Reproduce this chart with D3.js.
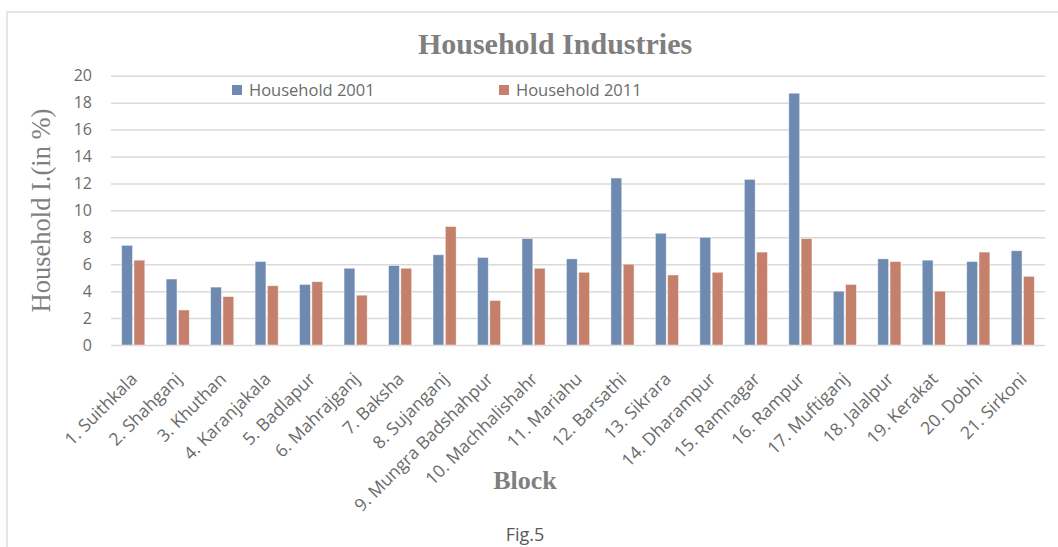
<!DOCTYPE html>
<html>
<head>
<meta charset="utf-8">
<script src="https://cdn.jsdelivr.net/npm/d3@7"></script>
<style>
  body { margin: 0; background: #fff; }
  .grid line { stroke: #d9d9d9; stroke-width: 1.5; }
  .grid path { display: none; }
  .yaxis path, .yaxis line { display: none; }
  .yaxis text { font-family: "Open Sans", sans-serif; font-size: 16px; fill: #6b6b6b; }
  .xaxis path, .xaxis line { display: none; }
  .xaxis text { font-family: "Open Sans", sans-serif; font-size: 17.5px; fill: #6b6b6b; }
</style>
</head>
<body>
<script>
(function() {
    var w = 1058,
        h = 547;

    // chart values
    var blocks = ['1. Suithkala', '2. Shahganj', '3. Khuthan', '4. Karanjakala', '5. Badlapur',
        '6. Mahrajganj', '7. Baksha', '8. Sujanganj', '9. Mungra Badshahpur', '10. Machhalishahr',
        '11. Mariahu', '12. Barsathi', '13. Sikrara', '14. Dharampur', '15. Ramnagar',
        '16. Rampur', '17. Muftiganj', '18. Jalalpur', '19. Kerakat', '20. Dobhi', '21. Sirkoni'];
    var household2001 = [7.4, 4.9, 4.3, 6.2, 4.5, 5.7, 5.9, 6.7, 6.5, 7.9, 6.4, 12.4, 8.3, 8.0, 12.3, 18.7, 4.0, 6.4, 6.3, 6.2, 7.0];
    var household2011 = [6.3, 2.6, 3.6, 4.4, 4.7, 3.7, 5.7, 8.8, 3.3, 5.7, 5.4, 6.0, 5.2, 5.4, 6.9, 7.9, 4.5, 6.2, 4.0, 6.9, 5.1];
    var seriesNames = ['Household 2001', 'Household 2011'];
    var seriesColors = ['#6f8ab0', '#c4806a'];
    var yTicks = [0, 2, 4, 6, 8, 10, 12, 14, 16, 18, 20];

    var plot = {left: 111, right: 1045, top: 75.7, bottom: 345};

    var svg = d3.select('body')
        .append('svg')
        .attr('width', w)
        .attr('height', h);

    // outer frame of the chart
    svg.append('rect')
        .attr('x', 7)
        .attr('y', 12)
        .attr('width', w + 20)
        .attr('height', h + 20)
        .attr('fill', 'none')
        .attr('stroke', '#e6e6e6')
        .attr('stroke-width', 2);

    var x0 = d3.scaleBand()
        .domain(blocks)
        .range([plot.left, plot.right])
        .paddingInner(0.48)
        .paddingOuter(0.24);
    var x1 = d3.scaleBand()
        .domain(seriesNames)
        .range([0, x0.bandwidth()])
        .paddingInner(0.12);
    var y = d3.scaleLinear()
        .domain([0, 20])
        .range([plot.bottom, plot.top]);

    // gridlines
    svg.append('g')
        .attr('class', 'grid')
        .attr('transform', 'translate(' + plot.left + ',0)')
        .call(d3.axisLeft(y).tickValues(yTicks).tickSize(-(plot.right - plot.left)).tickFormat(''));

    svg.append('g')
        .attr('class', 'yaxis')
        .attr('transform', 'translate(' + (plot.left - 19) + ',0)')
        .call(d3.axisLeft(y).tickValues(yTicks).tickSize(0).tickPadding(0));

    // bars
    var rows = blocks.map(function(b, i) {
        return {block: b, values: [household2001[i], household2011[i]]};
    });
    var groups = svg.append('g')
        .selectAll('g')
        .data(rows)
        .enter()
        .append('g')
        .attr('transform', function(d) { return 'translate(' + x0(d.block) + ',0)'; });
    groups.selectAll('rect')
        .data(function(d) {
            return d.values.map(function(v, j) { return {name: seriesNames[j], value: v, color: seriesColors[j]}; });
        })
        .enter()
        .append('rect')
        .attr('x', function(d) { return x1(d.name); })
        .attr('y', function(d) { return y(d.value); })
        .attr('width', x1.bandwidth())
        .attr('height', function(d) { return y(0) - y(d.value); })
        .attr('fill', function(d) { return d.color; })
        .attr('stroke', '#ffffff')
        .attr('stroke-opacity', 0.55)
        .attr('stroke-width', 0.8);

    // category labels, rotated
    var xAxis = svg.append('g')
        .attr('class', 'xaxis')
        .attr('transform', 'translate(0,' + plot.bottom + ')')
        .call(d3.axisBottom(x0).tickSize(0));
    xAxis.selectAll('text')
        .attr('text-anchor', 'end')
        .attr('dy', 0)
        .attr('transform', 'translate(3,33) rotate(-45)');

    // legend
    var legendX = [232, 499];
    var legend = svg.append('g')
        .selectAll('g')
        .data(seriesNames)
        .enter()
        .append('g')
        .attr('transform', function(d, i) { return 'translate(' + legendX[i] + ',85)'; });
    legend.append('rect')
        .attr('width', 10)
        .attr('height', 10)
        .attr('fill', function(d, i) { return seriesColors[i]; });
    legend.append('text')
        .attr('x', 17)
        .attr('y', 10.5)
        .style('font-family', '"Open Sans", sans-serif')
        .style('font-size', '16.5px')
        .attr('fill', '#6b6b6b')
        .text(function(d) { return d; });

    // titles
    svg.append('text')
        .attr('x', 555)
        .attr('y', 54)
        .attr('text-anchor', 'middle')
        .style('font-family', '"Liberation Serif", serif')
        .style('font-weight', 'bold')
        .style('font-size', '30px')
        .attr('fill', '#7f7f7f')
        .text('Household Industries');

    svg.append('text')
        .attr('transform', 'translate(50,210.5) rotate(-90)')
        .attr('text-anchor', 'middle')
        .style('font-family', '"Liberation Serif", serif')
        .style('font-size', '26.5px')
        .attr('fill', '#7f7f7f')
        .text('Household I.(in %)');

    svg.append('text')
        .attr('x', 525)
        .attr('y', 489)
        .attr('text-anchor', 'middle')
        .style('font-family', '"Liberation Serif", serif')
        .style('font-weight', 'bold')
        .style('font-size', '26px')
        .attr('fill', '#7f7f7f')
        .text('Block');

    svg.append('text')
        .attr('x', 525)
        .attr('y', 541)
        .attr('text-anchor', 'middle')
        .style('font-family', '"Open Sans", sans-serif')
        .style('font-size', '18px')
        .attr('fill', '#595959')
        .text('Fig.5');
})();
</script>
</body>
</html>
